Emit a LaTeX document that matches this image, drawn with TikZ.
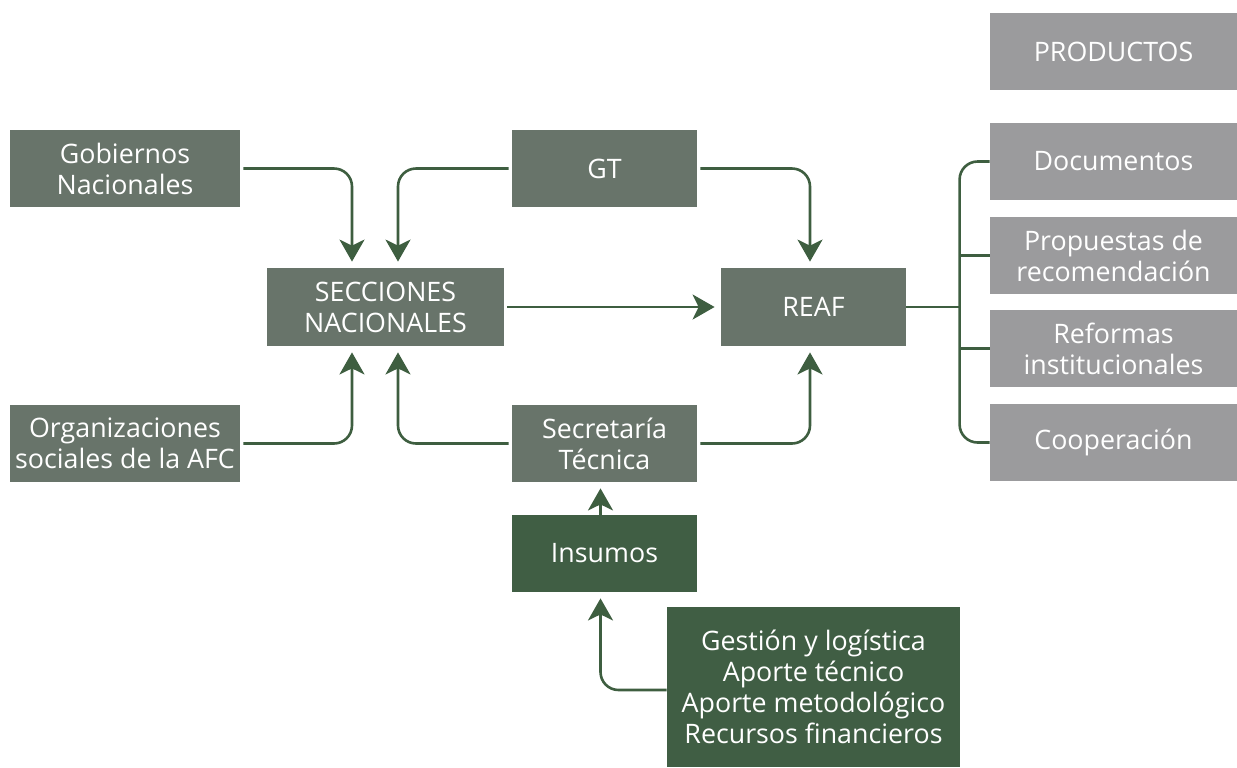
\documentclass[tikz,border=0pt]{standalone}
\usepackage{fontspec}
\setmainfont{Open Sans}
\usepackage{tikz}
\usetikzlibrary{arrows.meta}
\usetikzlibrary{positioning}
\definecolor{SageBox}{RGB}{104,116,106}
\definecolor{DarkBox}{RGB}{64,94,68}
\definecolor{GreyBox}{RGB}{155,155,157}
\definecolor{LineGreen}{RGB}{62,94,64}

\begin{document}
\begin{tikzpicture}[x=0.5pt, y=-0.5pt,
box/.style = {rectangle, text=white, align=center, inner sep=0pt,
  font=\fontsize{13.4pt}{15.5pt}\selectfont},
actor/.style = {box, fill=SageBox, minimum width=115pt, minimum height=38.5pt},
core/.style = {box, fill=SageBox, minimum width=92.5pt, minimum height=38.5pt},
input/.style = {box, fill=DarkBox, minimum width=92.5pt, minimum height=38.5pt},
product/.style = {box, fill=GreyBox, minimum width=123.5pt, minimum height=38.5pt},
edge/.style = {draw=LineGreen, line width=1.3pt, rounded corners=9pt,
  -{Stealth[length=11pt, width=12.5pt, inset=3pt]}, shorten <=1.5pt, shorten >=3pt},
link/.style = {draw=LineGreen, line width=1.3pt, rounded corners=9pt}]
\useasboundingbox (0,0) rectangle (1237,767);

\node[product] (prod) at (1113.5,51.5) {PRODUCTOS};
\node[actor] (gob) at (125,168.5) {Gobiernos\\Nacionales};
\node[core] (gt) at (604.5,168.5) {GT};
\node[box, fill=SageBox, minimum width=118.5pt, minimum height=39pt] (secc) at (385.5,307) {SECCIONES\\NACIONALES};
\node[core, minimum height=39pt] (reaf) at (813.5,307) {REAF};
\node[actor] (org) at (125,443.5) {Organizaciones\\sociales de la AFC};
\node[core] (sec) at (604.5,443.5) {Secretaría\\Técnica};
\node[input] (ins) at (604.5,553.5) {Insumos};
\node[box, fill=DarkBox, minimum width=146.5pt, minimum height=80pt] (gest) at (813.5,687)
  {Gestión y logística\\Aporte técnico\\Aporte metodológico\\Recursos financieros};
\node[product] (doc) at (1113.5,161.5) {Documentos};
\node[product] (prop) at (1113.5,255.5) {Propuestas de\\recomendación};
\node[product] (ref) at (1113.5,348.5) {Reformas\\institucionales};
\node[product] (coop) at (1113.5,442.5) {Cooperación};

\draw[edge] (gob.east) -| ([xshift=-16.75pt]secc.north);
\draw[edge] (gt.west) -| ([xshift=6.25pt]secc.north);
\draw[edge] (gt.east) -| ([xshift=-1.75pt]reaf.north);
\draw[edge] (secc) -- (reaf);
\draw[edge] (org.east) -| ([xshift=-16.75pt]secc.south);
\draw[edge] (sec.west) -| ([xshift=6.25pt]secc.south);
\draw[edge] (sec.east) -| ([xshift=-1.75pt]reaf.south);
\draw[edge, shorten <=0pt] ([xshift=-2pt]ins.north) -- ([xshift=-2pt]sec.south);
\draw[edge, shorten <=0pt] ([yshift=-1.5pt]gest.west) -| ([xshift=-2pt]ins.south);

\draw[link] (doc.west) -- ++(-30,0) |- (coop.west);
\draw[link] (prop.west) -- ++(-30,0);
\draw[link] (ref.west) -- ++(-30,0);
\draw[link] (reaf.east) -- ++(54,0);
\end{tikzpicture}
\end{document}
